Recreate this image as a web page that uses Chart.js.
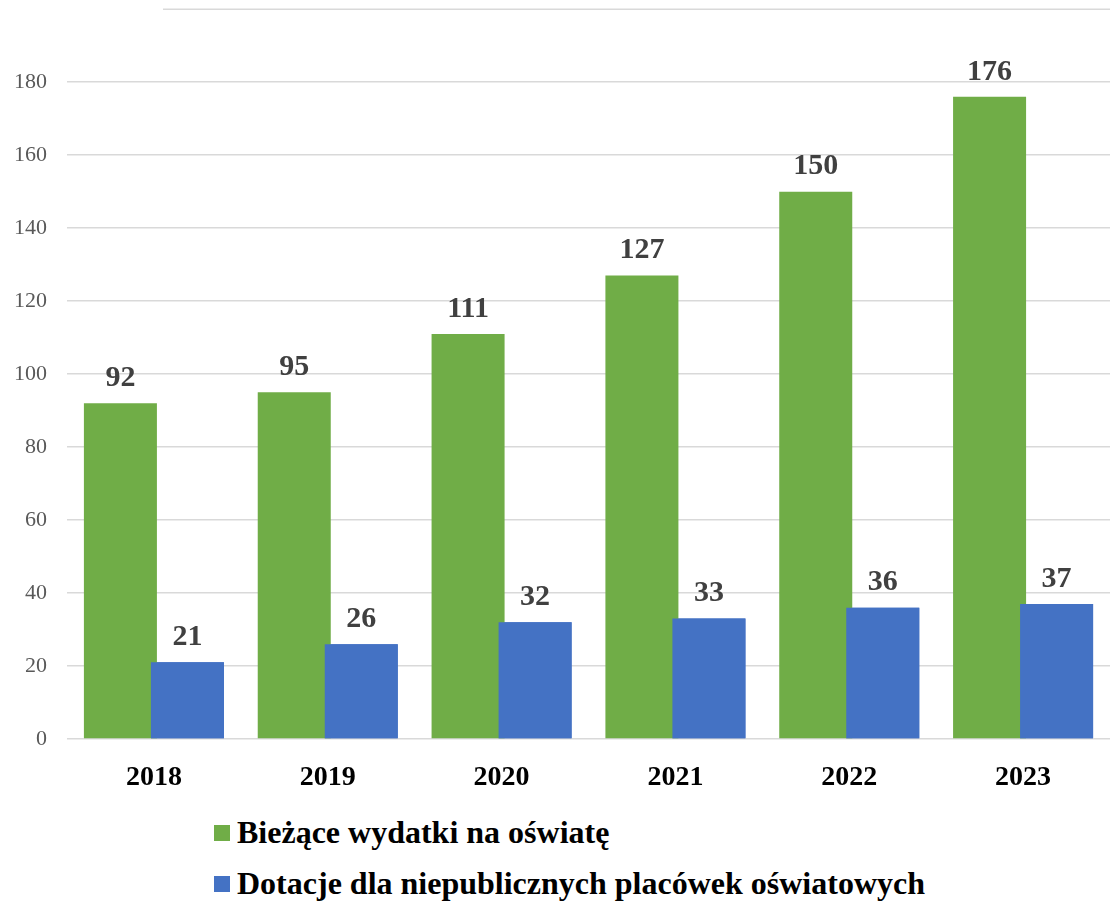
<!DOCTYPE html>
<html>
<head>
<meta charset="utf-8">
<script src="https://cdn.jsdelivr.net/npm/chart.js@4.4.0/dist/chart.umd.min.js"></script>
<style>
  body { margin: 0; background: #fff; }
  #wrap { position: relative; width: 1110px; height: 824px; margin-top: -24px; }
  #legend { margin: 0; padding: 7px 0 0 214px; list-style: none; font-family: "Liberation Serif", "Times New Roman", serif; font-weight: bold; font-size: 32px; color: #000; }
  #legend li { height: 51px; display: flex; align-items: center; }
  #legend span.box { display: inline-block; width: 16px; height: 16px; margin-right: 7px; }
</style>
</head>
<body>
<div id="wrap"><canvas id="chart" width="1110" height="824"></canvas></div>
<ul id="legend"></ul>
<script>
// Data
const years = ['2018', '2019', '2020', '2021', '2022', '2023'];
const biezaceWydatki = [92, 95, 111, 127, 150, 176];
const dotacje = [21, 26, 32, 33, 36, 37];
const yTicks = [0, 20, 40, 60, 80, 100, 120, 140, 160, 180, 200];

const serif = '"Liberation Serif", "Times New Roman", serif';

// bars overlap a little like in Excel
const overlapPlugin = {
    id: 'overlap',
    afterDatasetsUpdate(chart) {
        chart.getDatasetMeta(0).data.forEach(el => { el.x += 3; });
        chart.getDatasetMeta(1).data.forEach(el => { el.x -= 3; });
    }
};

// blue series on top of the green one, then value labels above bars
const valueLabels = {
    id: 'valueLabels',
    afterDatasetsDraw(chart) {
        chart.getDatasetMeta(1).controller.draw();
        const ctx = chart.ctx;
        ctx.save();
        ctx.font = 'bold 30px ' + serif;
        ctx.fillStyle = '#404040';
        ctx.textAlign = 'center';
        ctx.textBaseline = 'bottom';
        chart.data.datasets.forEach((ds, i) => {
            chart.getDatasetMeta(i).data.forEach((bar, j) => {
                ctx.fillText(ds.data[j], bar.x, bar.y - 10);
            });
        });
        ctx.restore();
    }
};

// top gridline is cut at the left in the original picture
const topLine = {
    id: 'topLine',
    beforeDatasetsDraw(chart) {
        const y = chart.scales.y.getPixelForValue(200);
        const ctx = chart.ctx;
        ctx.save();
        ctx.strokeStyle = '#d9d9d9';
        ctx.lineWidth = 1.5;
        ctx.beginPath();
        ctx.moveTo(163, y);
        ctx.lineTo(chart.chartArea.right, y);
        ctx.stroke();
        ctx.restore();
    }
};

const chart = new Chart(document.getElementById('chart'), {
    type: 'bar',
    data: {
        labels: years,
        datasets: [{
            label: 'Bieżące wydatki na oświatę',
            data: biezaceWydatki,
            backgroundColor: '#70ad47'
        }, {
            label: 'Dotacje dla niepublicznych placówek oświatowych',
            data: dotacje,
            backgroundColor: '#4472c4'
        }]
    },
    options: {
        responsive: false,
        animation: false,
        layout: { padding: { top: 9, right: 0, left: 0, bottom: 0 } },
        plugins: {
            legend: { display: false },
            tooltip: { enabled: false }
        },
        datasets: {
            bar: { categoryPercentage: 0.84, barPercentage: 1.0 }
        },
        scales: {
            x: {
                grid: { display: false },
                border: { display: false },
                ticks: {
                    color: '#000',
                    font: { family: serif, size: 28, weight: 'bold' },
                    padding: 14
                },
                afterFit(scale) { scale.height = 61; }
            },
            y: {
                min: 0,
                max: 200,
                afterBuildTicks(scale) { scale.ticks = yTicks.map(v => ({ value: v })); },
                grid: {
                    color: ctx => ctx.tick && ctx.tick.value === 200 ? 'rgba(0,0,0,0)' : '#d9d9d9',
                    lineWidth: 1.5,
                    drawTicks: false
                },
                border: { display: false },
                ticks: {
                    color: '#595959',
                    font: { family: serif, size: 22 },
                    padding: 20,
                    callback: v => v === 200 ? '' : v
                },
                afterFit(scale) { scale.width = 67; }
            }
        }
    },
    plugins: [overlapPlugin, topLine, valueLabels]
});

// legend, one item per line
const legend = document.getElementById('legend');
chart.data.datasets.forEach(ds => {
    const li = document.createElement('li');
    const box = document.createElement('span');
    box.className = 'box';
    box.style.background = ds.backgroundColor;
    li.appendChild(box);
    li.appendChild(document.createTextNode(ds.label));
    legend.appendChild(li);
});
</script>
</body>
</html>
